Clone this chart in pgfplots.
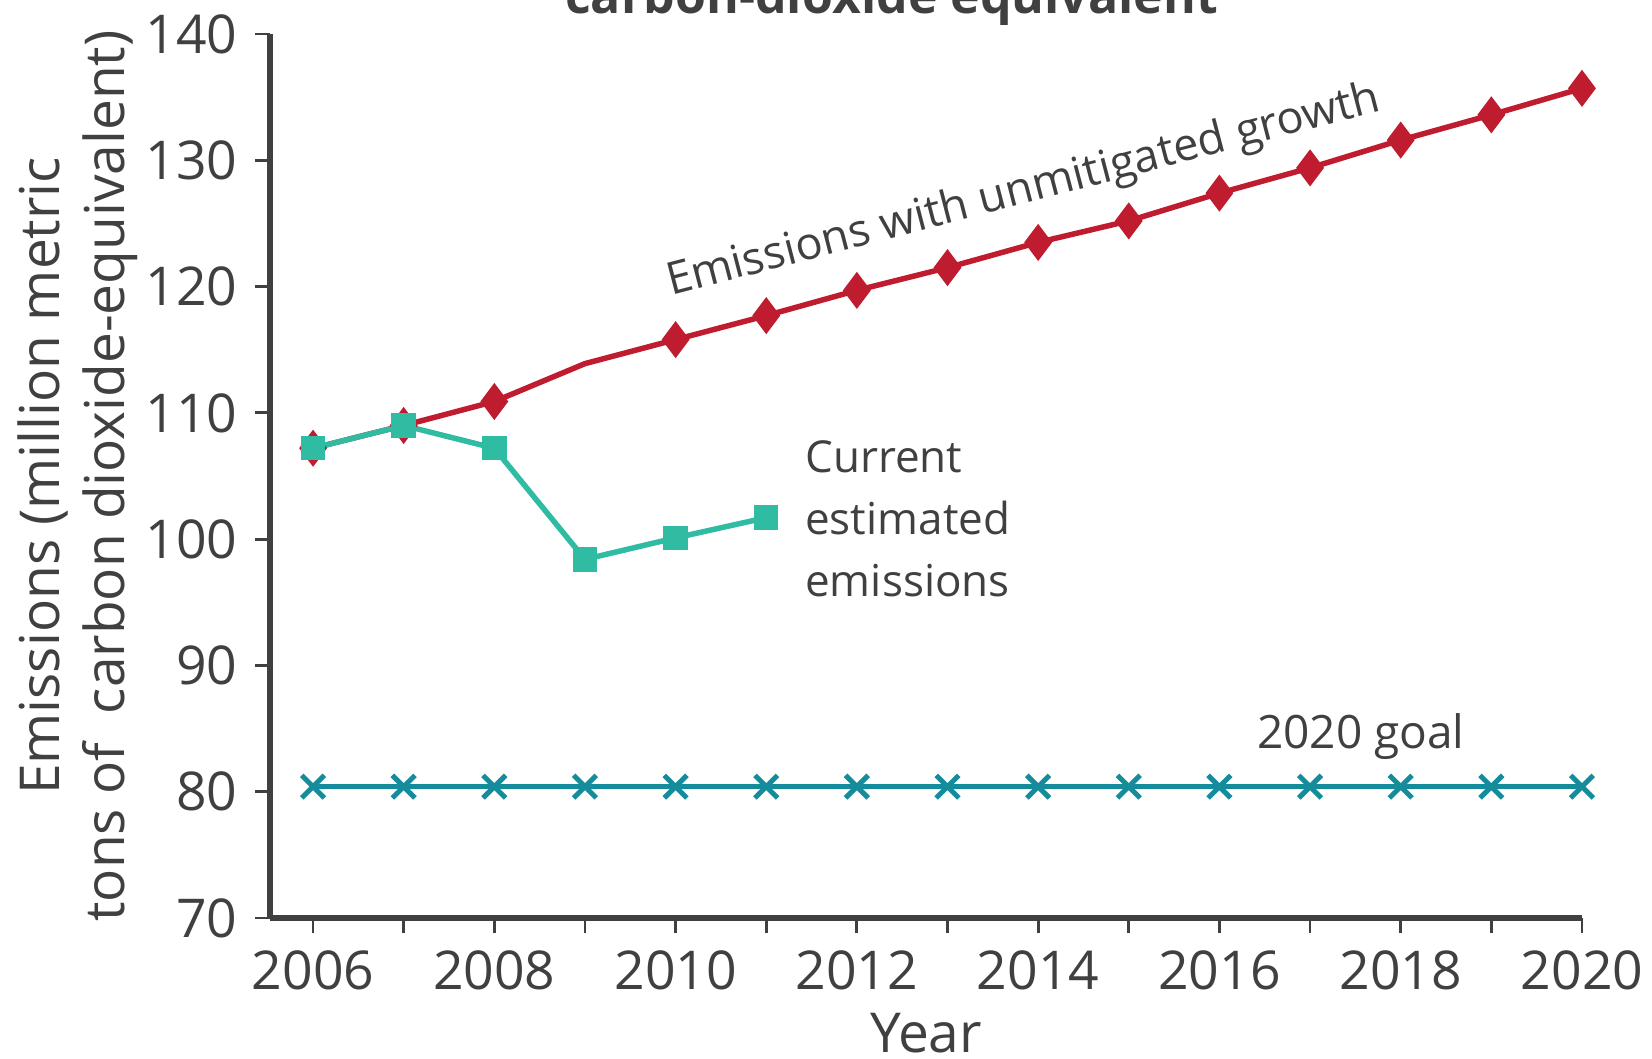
\documentclass[border=0pt]{standalone}
\usepackage{pgfplots}
\pgfplotsset{compat=1.18}
\usepackage{fontspec}
\setmainfont{Open Sans}
\definecolor{growthred}{RGB}{192,28,48}
\definecolor{estteal}{RGB}{48,187,163}
\definecolor{goalblue}{RGB}{20,140,155}
\definecolor{txtgray}{RGB}{64,64,64}

\pgfplotstableread{
year value
2006 107.2
2007 109.0
2008 110.9
2009 113.9
2010 115.8
2011 117.7
2012 119.7
2013 121.5
2014 123.5
2015 125.2
2016 127.4
2017 129.4
2018 131.6
2019 133.6
2020 135.7
}\unmitigated

\pgfplotstableread{
year value
2006 107.2
2007 109.0
2008 107.2
2009 98.4
2010 100.1
2011 101.7
}\current

\pgfplotstableread{
year value
2006 80.4
2007 80.4
2008 80.4
2009 80.4
2010 80.4
2011 80.4
2012 80.4
2013 80.4
2014 80.4
2015 80.4
2016 80.4
2017 80.4
2018 80.4
2019 80.4
2020 80.4
}\goal

\begin{document}
\begin{tikzpicture}
\useasboundingbox (-54pt,-28.2pt) rectangle (276.4pt,183.6pt);
\begin{axis}[
    at={(0pt,0pt)}, anchor=south west,
    scale only axis,
    width=262.4pt, height=176.8pt,
    axis lines*=left,
    axis line style={line width=1.1pt, txtgray},
    xmin=2005.525, xmax=2020,
    ymin=70, ymax=140,
    xtick={2006,2008,...,2020},
    minor xtick={2007,2009,...,2019},
    ytick={70,80,...,140},
    tick align=outside,
    major tick length=3pt, minor tick length=3pt,
    tick style={line width=0.55pt, txtgray},
    every tick label/.append style={font=\fontsize{10.7}{12}\selectfont, text=txtgray},
    /pgf/number format/assume math mode=true,
    /pgf/number format/1000 sep={},
    xlabel={Year},
    xlabel style={at={(rel axis cs:0.5,0)}, anchor=base, yshift=-27pt,
        font=\fontsize{11}{13}\selectfont, text=txtgray},
    ylabel={Emissions (million metric\\tons of\ \ carbon dioxide-equivalent)},
    ylabel style={at={(rel axis cs:0,0.5)}, anchor=center, yshift=38.5pt,
        align=center, font=\fontsize{11}{13}\selectfont, text=txtgray},
    clip=false,
]
\addplot[goalblue, line width=1pt, mark=x, mark size=3.2pt,
    mark options={line width=1pt}] table[x=year, y=value] {\goal};
\addplot[growthred, line width=1.1pt, mark=diamond*, mark size=2.8pt,
    mark indices={1,2,3,5,6,7,8,9,10,11,12,13,14,15}] table[x=year, y=value] {\unmitigated};
\addplot[estteal, line width=1.1pt, mark=square*, mark size=1.9pt] table[x=year, y=value] {\current};

\node[rotate=14.6, text=txtgray, font=\fontsize{9}{11}\selectfont]
    at (axis cs:2013.84,127.5) {Emissions with unmitigated growth};
\node[anchor=west, inner sep=0pt, align=left, text=txtgray,
    font=\fontsize{8.8}{12.4}\selectfont]
    at (axis cs:2011.42,101.6) {Current\\estimated\\emissions};
\node[anchor=base, text=txtgray, font=\fontsize{9.2}{11}\selectfont]
    at (axis cs:2017.56,83.46) {2020 goal};
\end{axis}
\node[anchor=base, text=txtgray, font=\fontsize{10}{12}\bfseries]
    at (124.3pt,180.8pt) {carbon-dioxide equivalent};
\end{tikzpicture}
\end{document}
